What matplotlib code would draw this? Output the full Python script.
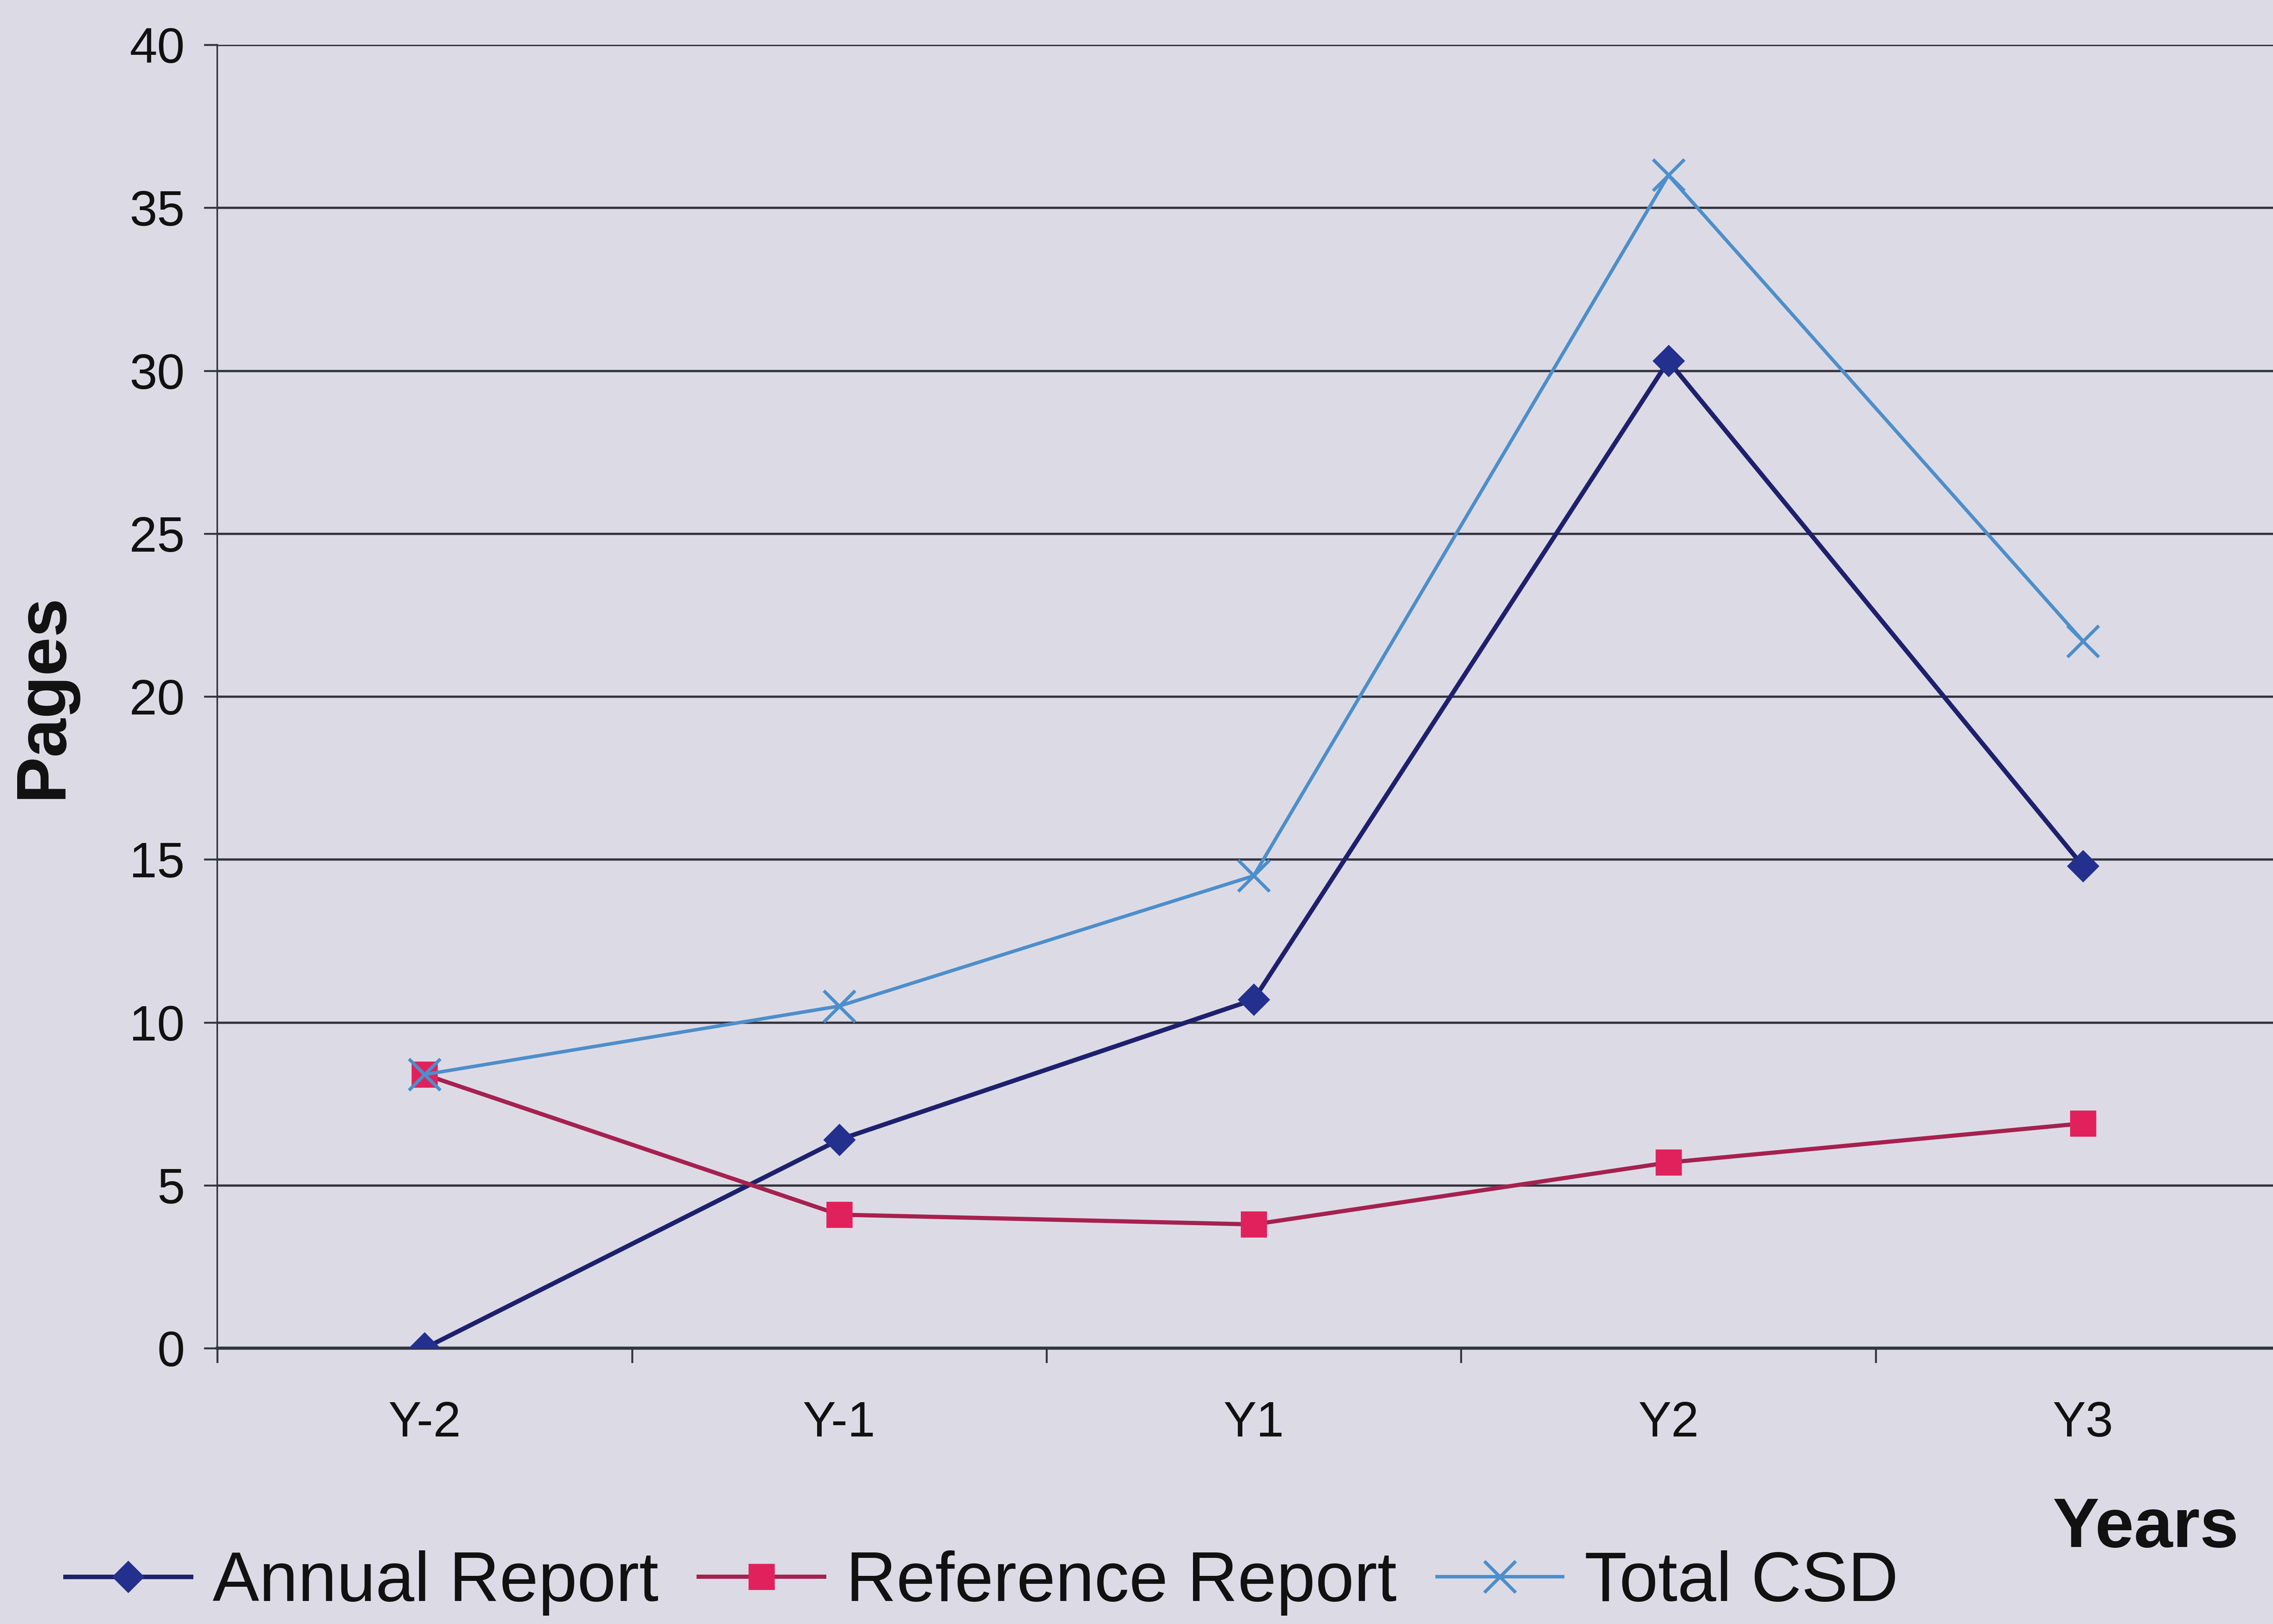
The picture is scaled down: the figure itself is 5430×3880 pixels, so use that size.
import matplotlib
matplotlib.use("Agg")
import matplotlib.pyplot as plt
from matplotlib.ticker import FixedLocator, NullFormatter

plt.rcParams["font.family"] = ["Liberation Sans", "DejaVu Sans"]

# Data
years = ["Y-2", "Y-1", "Y1", "Y2", "Y3"]
annual_report = [0.0, 6.4, 10.7, 30.3, 14.8]
reference_report = [8.4, 4.1, 3.8, 5.7, 6.9]
total_csd = [8.4, 10.5, 14.5, 36.0, 21.7]
y_ticks = [0, 5, 10, 15, 20, 25, 30, 35, 40]

BG = "#dcdbe5"
GRID = "#34343e"

fig = plt.figure(figsize=(5430 / 300, 3880 / 300), dpi=300, facecolor=BG)
ax = fig.add_axes([0.0956, 0.1698, 0.912, 0.8026], facecolor=BG)

x = list(range(len(years)))

ax.plot(x, annual_report, color="#1e206e", lw=2.6, marker="D", ms=12.5,
        mfc="#24308e", mec="#24308e", mew=0.6, label="Annual Report", zorder=3)
ax.plot(x, reference_report, color="#a6214f", lw=2.4, marker="s", ms=14.5,
        mfc="#e1215c", mec="#e1215c", mew=0.6, label="Reference Report", zorder=4)
ax.plot(x, total_csd, color="#4d8ecb", lw=2.0, marker="x", ms=18,
        mec="#4d8ecb", mew=1.9, label="Total CSD", zorder=5)

# Y axis
ax.set_ylim(0, 40)
ax.set_yticks(y_ticks)
ax.set_yticklabels([str(v) for v in y_ticks])
ax.yaxis.grid(True, color=GRID, lw=1.3)
ax.tick_params(axis="y", direction="out", length=7.7, width=1.1, color=GRID,
               labelsize=28.5, pad=11, labelcolor="#111111")

# X axis: tick marks on category boundaries, labels at category centres
ax.set_xlim(-0.5, len(years) - 0.5)
ax.xaxis.set_major_locator(FixedLocator([i + 0.5 for i in range(-1, len(years))]))
ax.xaxis.set_major_formatter(NullFormatter())
ax.xaxis.set_minor_locator(FixedLocator(x))
ax.set_xticklabels(years, minor=True)
ax.tick_params(axis="x", which="major", direction="out", length=8.4, width=1.1,
               color=GRID)
ax.tick_params(axis="x", which="minor", length=0, labelsize=28.5, pad=30,
               labelcolor="#111111")

for side in ("top", "right"):
    ax.spines[side].set_visible(False)
ax.spines["left"].set_color(GRID)
ax.spines["left"].set_linewidth(0.9)
ax.spines["bottom"].set_color(GRID)
ax.spines["bottom"].set_linewidth(1.8)
ax.set_axisbelow(True)

# Axis titles
fig.text(0.0192, 0.5716, "Pages", rotation=90, fontsize=40, fontweight="bold",
         ha="center", va="center", color="#111111")
fig.text(0.9439, 0.0585, "Years", fontsize=40, fontweight="bold",
         ha="center", va="center", color="#111111")

# Legend along the bottom edge
fig.legend(loc="center left", bbox_to_anchor=(0.0287, 0.0253), ncol=3,
           frameon=False, fontsize=40, handlelength=1.8, handletextpad=0.31,
           columnspacing=0.58, borderpad=0, borderaxespad=0, labelcolor="#111111")

fig.savefig("out.png", dpi=300, facecolor=BG)
